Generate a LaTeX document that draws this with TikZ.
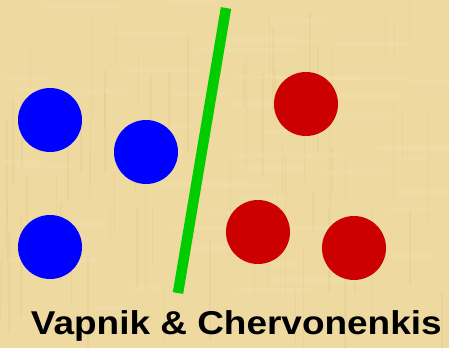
\documentclass[tikz,border=0pt]{standalone}
\usepackage{fontspec}
\setmainfont{Liberation Sans}
\usetikzlibrary{positioning}
\definecolor{papyrus}{HTML}{EED9A0}
\definecolor{papyruslt}{HTML}{F5E4B4}
\definecolor{papyrusdk}{HTML}{DCC488}
\definecolor{ptblue}{HTML}{0000FF}
\definecolor{ptred}{HTML}{CC0000}
\definecolor{sepgreen}{HTML}{00CC00}
\begin{document}
\begin{tikzpicture}[
    x=1pt, y=-1pt,
    bluept/.style={circle, fill=ptblue, minimum size=64pt, inner sep=0pt},
    redpt/.style={circle, fill=ptred, minimum size=64pt, inner sep=0pt},
    streak/.style={line width=1.5pt, opacity=0.25}
]
\useasboundingbox (0,0) rectangle (449,348);

% background
\fill[papyrus] (0,0) rectangle (449,348);
\pgfmathsetseed{11}
\foreach \i in {1,...,70} {
    \pgfmathsetmacro{\xs}{rnd*449}
    \pgfmathsetmacro{\ys}{rnd*300}
    \pgfmathsetmacro{\ls}{30+rnd*90}
    \draw[streak, papyrusdk] (\xs,\ys) -- ++(0,\ls);
}
\foreach \i in {1,...,50} {
    \pgfmathsetmacro{\xs}{rnd*420}
    \pgfmathsetmacro{\ys}{rnd*348}
    \pgfmathsetmacro{\ls}{30+rnd*80}
    \draw[streak, papyruslt, line width=4pt] (\xs,\ys) -- ++(\ls,0);
}

% class A
\node[bluept] (b1) at (50,120) {};
\node[bluept] (b2) at (146,152) {};
\node[bluept] (b3) at (50,247) {};

% class B
\node[redpt] (r1) at (306,104) {};
\node[redpt] (r2) at (258,232) {};
\node[redpt] (r3) at (354,248) {};

% separating line
\coordinate (top) at (226,8);
\coordinate (bot) at (178,293);
\draw[sepgreen, line width=10.5pt] (top) -- (bot);

% caption
\node[anchor=base west, inner sep=0pt, xscale=1.12,
      font=\fontsize{33}{33}\selectfont\bfseries] (cap) at (30.7,334.7)
      {Vapnik \& Chervonenkis};

\end{tikzpicture}
\end{document}
